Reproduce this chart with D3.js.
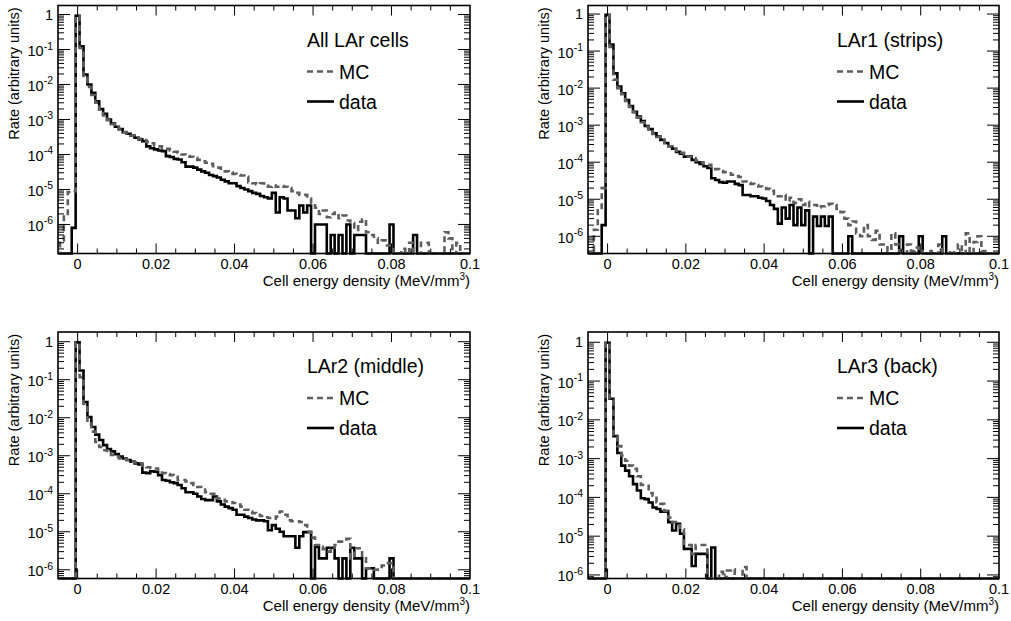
<!DOCTYPE html>
<html>
<head>
<meta charset="utf-8">
<script src="https://cdn.jsdelivr.net/npm/d3@7"></script>
<style>
  body { margin: 0; background: #fff; }
  text { font-family: "Liberation Sans", Arial, Helvetica, sans-serif; fill: #000; }
</style>
</head>
<body>
<script>
// histogram bins: width 0.001 MeV/mm3, centred on k*0.001, k = -5 .. 100
var binStart = -5, binWidth = 0.001;

var xTicks = [0, 0.02, 0.04, 0.06, 0.08, 0.1];
var xTickLabels = ["0", "0.02", "0.04", "0.06", "0.08", "0.1"];
var yExponents = [0, -1, -2, -3, -4, -5, -6];

var panelTitles = ["All LAr cells", "LAr1 (strips)", "LAr2 (middle)", "LAr3 (back)"];
var seriesNames = ["MC", "data"];

// ---- All LAr cells
var mcAll = [
  0, 3.5e-7, 2e-6, 8.5e-6, 9e-6,
  0.9, 0.11, 0.016, 0.0085, 0.005, 0.003, 0.0019, 0.0013, 9.5e-4, 7.3e-4,
  6e-4, 5.2e-4, 4.4e-4, 3.9e-4, 3.5e-4, 3.1e-4, 2.8e-4, 2.6e-4, 2.3e-4, 2.1e-4,
  1.8e-4, 1.7e-4, 1.55e-4, 1.45e-4, 1.3e-4, 1.2e-4, 1.1e-4, 1e-4, 9e-5, 8.6e-5,
  8e-5, 7e-5, 6.4e-5, 5.8e-5, 5.4e-5, 4.6e-5, 4.2e-5, 3.6e-5, 3.3e-5, 3.1e-5,
  2.8e-5, 2.6e-5, 2.5e-5, 2.3e-5, 1.6e-5, 1.5e-5, 1.4e-5, 1.5e-5, 1.3e-5, 1.2e-5,
  1.3e-5, 1.2e-5, 1.25e-5, 1.2e-5, 1.1e-5, 9e-6, 8e-6, 7e-6, 7e-6, 5.5e-6,
  4e-6, 3e-6, 2e-6, 2.5e-6, 1.6e-6, 2e-6, 2.2e-6, 1.5e-6, 1.8e-6, 1.3e-6,
  1.1e-6, 7e-7, 1.2e-6, 1.4e-6, 6e-7, 5e-7, 4e-7, 3e-7, 3.5e-7, 2.5e-7,
  2.5e-7, 0, 0, 2e-7, 0, 3e-7, 0, 0, 3e-7, 3e-7,
  0, 0, 0, 0, 6e-7, 4e-7, 0, 3e-7, 0, 0,
  0
];
var dataAll = [
  0, 0, 0, 0, 8e-7,
  0.92, 0.124, 0.0193, 0.01, 0.0058, 0.0033, 0.002, 0.00145, 0.001, 7.7e-4,
  6.2e-4, 5.3e-4, 4.3e-4, 3.9e-4, 3.5e-4, 3e-4, 2.7e-4, 2.4e-4, 1.7e-4, 1.5e-4,
  1.4e-4, 1.3e-4, 1.25e-4, 9e-5, 8.5e-5, 7.5e-5, 7.2e-5, 6e-5, 4.5e-5, 4.5e-5,
  4.2e-5, 3.7e-5, 3.3e-5, 3e-5, 2.6e-5, 2.4e-5, 2.2e-5, 1.9e-5, 1.7e-5, 1.5e-5,
  1.5e-5, 1.25e-5, 1.1e-5, 1e-5, 9e-6, 8e-6, 7.5e-6, 6.5e-6, 6e-6, 5.5e-6,
  8e-6, 2.2e-6, 6e-6, 5.5e-6, 2.5e-6, 2.5e-6, 1.5e-6, 3.5e-6, 2.2e-6, 3.5e-6,
  0, 1e-6, 1e-6, 1e-6, 0, 5e-7, 0, 5e-7, 0, 1e-6,
  0, 5e-7, 5e-7, 5e-7, 0, 0, 0, 0, 0, 0,
  1e-6, 0, 0, 0, 0, 0, 5e-7, 0, 0, 0,
  0, 0, 0, 0, 0, 0, 0, 0, 0, 0,
  0
];

// ---- LAr1 (strips)
var mcStrips = [
  0, 4e-7, 1.5e-6, 5e-6, 2e-5,
  0.93, 0.13, 0.017, 0.01, 0.0068, 0.0045, 0.0031, 0.0022, 0.0016, 0.0012,
  9e-4, 7.5e-4, 5.8e-4, 4.8e-4, 4e-4, 3.3e-4, 2.7e-4, 2.3e-4, 2e-4, 1.8e-4,
  1.6e-4, 1.4e-4, 1.3e-4, 1.1e-4, 1e-4, 9e-5, 8.5e-5, 7.5e-5, 6.5e-5, 5.8e-5,
  5.4e-5, 5e-5, 4.6e-5, 4.2e-5, 4e-5, 3e-5, 2.8e-5, 2.6e-5, 2.4e-5, 2.2e-5,
  2e-5, 1.9e-5, 1.7e-5, 1.4e-5, 1.2e-5, 1.3e-5, 9e-6, 1.1e-5, 8e-6, 1e-5,
  7e-6, 8.5e-6, 6.5e-6, 7e-6, 6e-6, 6.5e-6, 7e-6, 7.5e-6, 7e-6, 5.5e-6,
  4.5e-6, 3e-6, 2e-6, 2.5e-6, 1.2e-6, 1e-6, 2e-6, 1e-6, 8e-7, 1.4e-6,
  6e-7, 6e-7, 4e-7, 1.2e-6, 6e-7, 4e-7, 0, 6e-7, 4e-7, 5e-7,
  4e-7, 0, 0, 4e-7, 0, 6e-7, 0, 0, 4e-7, 0,
  6e-7, 0, 1.2e-6, 0, 7e-7, 1e-6, 4e-7, 0, 0, 0,
  0
];
var dataStrips = [
  0, 0, 0, 0, 2e-6,
  0.95, 0.15, 0.025, 0.011, 0.0073, 0.0048, 0.0033, 0.0023, 0.0017, 0.0013,
  9.5e-4, 7.8e-4, 6e-4, 4.9e-4, 4e-4, 3.3e-4, 2.7e-4, 2.3e-4, 1.9e-4, 1.7e-4,
  1.4e-4, 1.45e-4, 1.15e-4, 1e-4, 9e-5, 7.8e-5, 7e-5, 3.7e-5, 3.3e-5, 2.9e-5,
  2.8e-5, 3e-5, 3e-5, 2.6e-5, 2.4e-5, 1.3e-5, 1.3e-5, 1.2e-5, 1.2e-5, 1.1e-5,
  1.05e-5, 9e-6, 7e-6, 5.5e-6, 2.2e-6, 6e-6, 3e-6, 7e-6, 2e-6, 6e-6,
  2e-6, 5e-6, 0, 3.4e-6, 1.9e-6, 3.4e-6, 1.9e-6, 3.4e-6, 0, 0,
  0, 0, 1e-6, 0, 0, 0, 0, 0, 0, 0,
  0, 0, 0, 0, 0, 1e-6, 0, 0, 0, 0,
  1e-6, 0, 0, 0, 0, 0, 1e-6, 0, 0, 0,
  0, 0, 0, 0, 0, 0, 0, 0, 0, 0,
  0
];

// ---- LAr2 (middle)
var mcMiddle = [
  0, 0, 0, 0, 0,
  0.93, 0.117, 0.023, 0.007, 0.0043, 0.0023, 0.0017, 0.0014, 0.0012, 0.00105,
  9.5e-4, 8.5e-4, 8.2e-4, 7.7e-4, 7e-4, 6.7e-4, 6.3e-4, 5.4e-4, 5e-4, 4.8e-4,
  4.6e-4, 3.9e-4, 3.5e-4, 3.3e-4, 3.1e-4, 2.8e-4, 2.3e-4, 2.3e-4, 2.1e-4, 1.9e-4,
  1.7e-4, 1.5e-4, 1.3e-4, 1.1e-4, 1e-4, 1e-4, 7.5e-5, 6.9e-5, 6.3e-5, 6e-5,
  5.7e-5, 5.2e-5, 4.6e-5, 3.8e-5, 3.4e-5, 3.1e-5, 2.8e-5, 2.6e-5, 2.4e-5, 2.3e-5,
  2.2e-5, 2.5e-5, 3.4e-5, 2.8e-5, 2e-5, 1.9e-5, 1.9e-5, 1.8e-5, 1.5e-5, 1e-5,
  7e-6, 4.5e-6, 4e-6, 3.5e-6, 3e-6, 3.5e-6, 4.5e-6, 5.5e-6, 5.5e-6, 6.5e-6,
  2e-6, 3.7e-6, 3.7e-6, 2e-6, 1.1e-6, 1.1e-6, 1e-6, 1.1e-6, 1.3e-6, 1.5e-6,
  1.5e-6, 0, 0, 0, 0, 0, 0, 0, 0, 0,
  0, 0, 0, 0, 0, 0, 0, 0, 0, 0,
  0
];
var dataMiddle = [
  0, 0, 0, 0, 0,
  0.96, 0.174, 0.026, 0.0105, 0.0057, 0.0036, 0.0026, 0.0019, 0.0015, 0.0013,
  0.0011, 9.5e-4, 8.5e-4, 7.7e-4, 7e-4, 6.3e-4, 5.9e-4, 3.6e-4, 3.5e-4, 3.9e-4,
  3.8e-4, 3.1e-4, 2.3e-4, 2.2e-4, 2e-4, 1.9e-4, 1.7e-4, 1.4e-4, 1.1e-4, 1.1e-4,
  1e-4, 8.5e-5, 7.3e-5, 6.8e-5, 6.8e-5, 8.5e-5, 6.3e-5, 5.2e-5, 4.6e-5, 4.2e-5,
  3.8e-5, 2.8e-5, 2.8e-5, 2.5e-5, 2.3e-5, 2.1e-5, 2e-5, 2e-5, 1.9e-5, 1.1e-5,
  1.5e-5, 1.2e-5, 1e-5, 7.6e-6, 7.6e-6, 7.6e-6, 3.8e-6, 7.6e-6, 9.8e-6, 9.8e-6,
  0, 4e-6, 2e-6, 2e-6, 3.8e-6, 3.8e-6, 2e-6, 0, 2e-6, 0,
  3.8e-6, 2e-6, 2e-6, 0, 1.1e-6, 1.1e-6, 0, 0, 0, 0,
  2e-6, 0, 0, 0, 0, 0, 0, 0, 0, 0,
  0, 0, 0, 0, 0, 0, 0, 0, 0, 0,
  0
];

// ---- LAr3 (back)
var mcBack = [
  0, 0, 0, 0, 0,
  0.97, 0.033, 0.0038, 0.0021, 0.0012, 8.8e-4, 6.6e-4, 5.5e-4, 3.5e-4, 2.1e-4,
  2e-4, 1.3e-4, 1.1e-4, 7.4e-5, 6.8e-5, 4.5e-5, 3e-5, 2.3e-5, 1.9e-5, 1.5e-5,
  6.3e-6, 5.9e-6, 3.5e-6, 5.9e-6, 5.9e-6, 5.9e-6, 0, 0, 0, 1.2e-6,
  0, 1.3e-6, 1.4e-6, 0, 0, 1.6e-6, 0, 0, 0, 0,
  0, 0, 0, 0, 0, 0, 0, 0, 0, 0,
  0, 0, 0, 0, 0, 0, 0, 0, 0, 0,
  0, 0, 0, 0, 0, 0, 0, 0, 0, 0,
  0, 0, 0, 0, 0, 0, 0, 0, 0, 0,
  0, 0, 0, 0, 0, 0, 0, 0, 0, 0,
  0, 0, 0, 0, 0, 0, 0, 0, 0, 0,
  0
];
var dataBack = [
  0, 0, 0, 0, 0,
  0.97, 0.035, 0.0038, 0.0014, 6.6e-4, 4.9e-4, 3.5e-4, 2.2e-4, 1.5e-4, 9.5e-5,
  9e-5, 7.4e-5, 5.5e-5, 5e-5, 4.3e-5, 4.3e-5, 2.3e-5, 1.4e-5, 2.1e-5, 1.15e-5,
  4.7e-6, 4.7e-6, 1.7e-6, 3.5e-6, 3.5e-6, 3.5e-6, 0, 5.1e-6, 0, 0,
  0, 0, 0, 0, 0, 0, 0, 0, 0, 0,
  0, 0, 0, 0, 0, 0, 0, 0, 0, 0,
  0, 0, 0, 0, 0, 0, 0, 0, 0, 0,
  0, 0, 0, 0, 0, 0, 0, 0, 0, 0,
  0, 0, 0, 0, 0, 0, 0, 0, 0, 0,
  0, 0, 0, 0, 0, 0, 0, 0, 0, 0,
  0, 0, 0, 0, 0, 0, 0, 0, 0, 0,
  0
];

var mcColor = "#5e5e5e";

var panels = [
  {title: panelTitles[0], mc: mcAll, data: dataAll, left: 58, right: 470, top: 5.5, bottom: 253.5, yMin: 1.48e-7, yMax: 1.81},
  {title: panelTitles[1], mc: mcStrips, data: dataStrips, left: 588, right: 999, top: 5.5, bottom: 253.5, yMin: 3.43e-7, yMax: 1.7},
  {title: panelTitles[2], mc: mcMiddle, data: dataMiddle, left: 58, right: 470, top: 332, bottom: 578.5, yMin: 5.9e-7, yMax: 1.8},
  {title: panelTitles[3], mc: mcBack, data: dataBack, left: 588, right: 999, top: 332, bottom: 578.5, yMin: 8.1e-7, yMax: 1.84}
];

var svg = d3.select("body")
  .append("svg")
  .attr("width", 1011)
  .attr("height", 621)
  .style("background-color", "white");

panels.forEach(function(p, i) {
  var g = svg.append("g");

  var x = d3.scaleLinear().domain([-0.005, 0.1]).range([p.left, p.right]);
  var y = d3.scaleLog().domain([p.yMin, p.yMax]).range([p.bottom, p.top]);

  g.append("clipPath").attr("id", "clip" + i)
    .append("rect")
    .attr("x", p.left).attr("y", p.top - 2)
    .attr("width", p.right - p.left).attr("height", p.bottom - p.top + 4);

  // step outline of a histogram, empty bins sit on the frame floor
  function steps(values) {
    var pts = [];
    values.forEach(function(v, j) {
      var lo = (binStart + j - 0.5) * binWidth;
      var yy = v > p.yMin ? y(Math.min(v, p.yMax)) : p.bottom;
      pts.push([x(lo), yy], [x(lo + binWidth), yy]);
    });
    return pts;
  }

  var line = d3.line();
  var plot = g.append("g").attr("clip-path", "url(#clip" + i + ")");

  plot.append("path")
    .attr("d", line(steps(p.data)))
    .attr("fill", "none")
    .attr("stroke", "#000")
    .attr("stroke-width", 2.6);

  plot.append("path")
    .attr("d", line(steps(p.mc)))
    .attr("fill", "none")
    .attr("stroke", mcColor)
    .attr("stroke-width", 2.6)
    .attr("stroke-dasharray", "6,4");

  // frame
  g.append("rect")
    .attr("x", p.left).attr("y", p.top)
    .attr("width", p.right - p.left).attr("height", p.bottom - p.top)
    .attr("fill", "none").attr("stroke", "#000").attr("stroke-width", 1.6);

  // x ticks, both sides
  var ticks = g.append("g").attr("stroke", "#000").attr("stroke-width", 1);
  d3.range(1, 21).forEach(function(n) {
    var v = -0.005 + n * 0.005;
    var major = Math.abs(v / 0.02 - Math.round(v / 0.02)) < 1e-6;
    var len = major ? 10 : 5;
    var xx = x(v);
    if (xx >= p.right - 1) return;
    ticks.append("line").attr("x1", xx).attr("x2", xx).attr("y1", p.bottom).attr("y2", p.bottom - len);
    ticks.append("line").attr("x1", xx).attr("x2", xx).attr("y1", p.top).attr("y2", p.top + len);
  });

  // y ticks (log), both sides
  d3.range(-8, 1).forEach(function(e) {
    d3.range(1, 10).forEach(function(m) {
      var v = m * Math.pow(10, e);
      if (v <= p.yMin || v >= p.yMax) return;
      var len = m === 1 ? 12 : 6;
      var yy = y(v);
      ticks.append("line").attr("x1", p.left).attr("x2", p.left + len).attr("y1", yy).attr("y2", yy);
      ticks.append("line").attr("x1", p.right).attr("x2", p.right - len).attr("y1", yy).attr("y2", yy);
    });
  });

  // x tick labels
  g.selectAll(".xl")
    .data(xTicks)
    .enter()
    .append("text")
    .attr("x", function(d) { return x(d); })
    .attr("y", p.bottom + 15)
    .attr("text-anchor", "middle")
    .style("font-size", "14.5px")
    .text(function(d, j) { return xTickLabels[j]; });

  // y tick labels
  yExponents.forEach(function(e) {
    var yy = y(Math.pow(10, e));
    var t = g.append("text")
      .attr("x", p.left - 5)
      .attr("text-anchor", "end")
      .style("font-size", "14.5px");
    if (e === 0) {
      t.attr("y", yy + 5.2).text("1");
    } else {
      t.attr("y", yy + 6.5).text("10");
      t.append("tspan").attr("dy", -6.5).style("font-size", "10.5px").text(String(e));
    }
  });

  // axis titles
  var xt = g.append("text")
    .attr("x", p.right)
    .attr("y", p.bottom + 32)
    .attr("text-anchor", "end")
    .style("font-size", "15px")
    .text("Cell energy density (MeV/mm");
  xt.append("tspan").attr("dy", -6).style("font-size", "10px").text("3");
  xt.append("tspan").attr("dy", 6).text(")");

  g.append("text")
    .attr("transform", "translate(" + (p.left - 39) + "," + (p.top + 2) + ")rotate(-90)")
    .attr("text-anchor", "end")
    .style("font-size", "14.5px")
    .text("Rate (arbitrary units)");

  // legend
  var lx = p.left + 249;
  g.append("text")
    .attr("x", lx).attr("y", p.top + 41)
    .style("font-size", "19.5px")
    .text(p.title);

  var legendRows = [
    {name: seriesNames[0], color: mcColor, dash: "6,4", dy: 66},
    {name: seriesNames[1], color: "#000", dash: null, dy: 96}
  ];
  legendRows.forEach(function(r) {
    g.append("line")
      .attr("x1", lx).attr("x2", lx + 27)
      .attr("y1", p.top + r.dy).attr("y2", p.top + r.dy)
      .attr("stroke", r.color).attr("stroke-width", 2.6)
      .attr("stroke-dasharray", r.dash);
    g.append("text")
      .attr("x", lx + 32).attr("y", p.top + r.dy + 7)
      .style("font-size", "19.5px")
      .text(r.name);
  });
});
</script>
</body>
</html>
